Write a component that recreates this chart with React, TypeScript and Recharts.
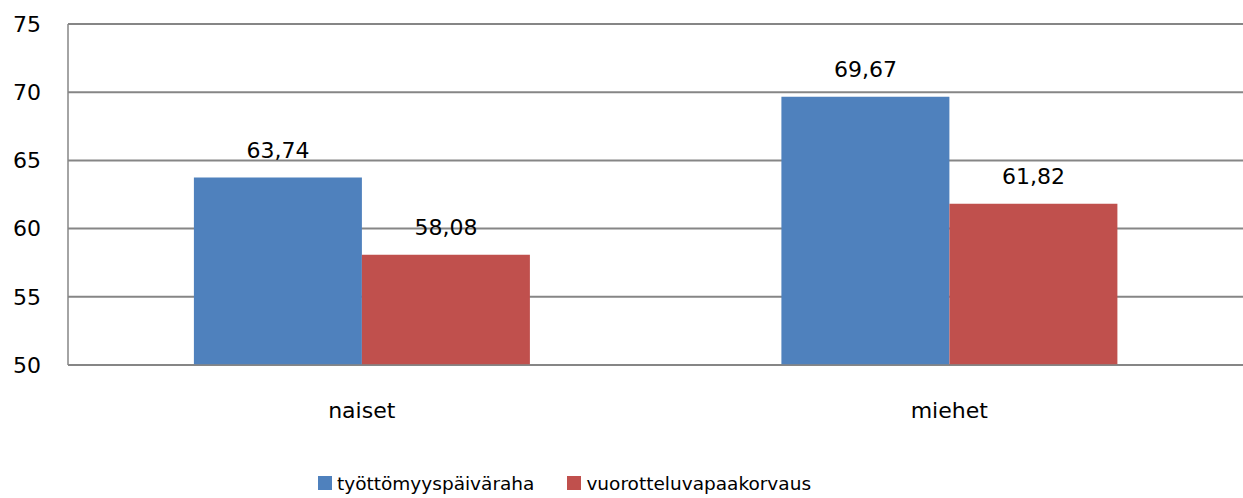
import { BarChart, Bar, XAxis, YAxis, CartesianGrid, Legend, LabelList } from "recharts";

const ryhmat = ["naiset", "miehet"];
const tyottomyyspaivaraha = [63.74, 69.67];
const vuorottelukorvaus = [58.08, 61.82];
const yTicks = [50, 55, 60, 65, 70, 75];

const sarjat = [
  { key: "tyottomyys", nimi: "työttömyyspäiväraha", vari: "#4F81BD" },
  { key: "vuorottelu", nimi: "vuorotteluvapaakorvaus", vari: "#C0504D" },
];

const data = ryhmat.map((ryhma, i) => ({
  ryhma,
  tyottomyys: tyottomyyspaivaraha[i],
  vuorottelu: vuorottelukorvaus[i],
}));

const fontti = "'DejaVu Sans', sans-serif";
const harmaa = "#868686";

const lukuMuoto = (v: number) => v.toFixed(2).replace(".", ",");

function Selite() {
  return (
    <div
      style={{
        display: "flex",
        alignItems: "center",
        height: 30,
        paddingLeft: 318,
        fontFamily: fontti,
        fontSize: 18.5,
        color: "#000",
      }}
    >
      {sarjat.map((s, i) => (
        <div
          key={s.key}
          style={{ display: "flex", alignItems: "center", marginRight: i === 0 ? 33 : 0 }}
        >
          <span
            style={{ width: 14, height: 14, background: s.vari, display: "inline-block", marginRight: 5 }}
          />
          <span>{s.nimi}</span>
        </div>
      ))}
    </div>
  );
}

export default function App() {
  return (
    <div
      style={{
        position: "absolute",
        left: 0,
        top: 0,
        width: 1243,
        height: 498,
        overflow: "hidden",
        background: "#fff",
      }}
    >
      <BarChart
        width={1243}
        height={498}
        data={data}
        margin={{ top: 24, right: 0, bottom: 0, left: 0 }}
        barCategoryGap="21.43%"
        barGap={0}
      >
        <CartesianGrid vertical={false} stroke={harmaa} strokeWidth={2} />
        <XAxis
          dataKey="ryhma"
          height={103}
          tickLine={false}
          tickSize={0}
          tickMargin={37}
          axisLine={{ stroke: harmaa, strokeWidth: 1.5 }}
          tick={{ fill: "#000", fontSize: 22, fontFamily: fontti }}
        />
        <YAxis
          width={68}
          domain={[50, 75]}
          ticks={yTicks}
          interval={0}
          allowDataOverflow
          tickLine={false}
          tickSize={0}
          tickMargin={27}
          axisLine={{ stroke: harmaa, strokeWidth: 1.5 }}
          tick={{ fill: "#000", fontSize: 22, fontFamily: fontti }}
        />
        <Legend verticalAlign="bottom" content={() => <Selite />} />
        {sarjat.map((s) => (
          <Bar key={s.key} dataKey={s.key} name={s.nimi} fill={s.vari} isAnimationActive={false}>
            <LabelList
              dataKey={s.key}
              position="top"
              offset={20}
              formatter={(v: number) => lukuMuoto(v)}
              style={{ fill: "#000", fontSize: 22, fontFamily: fontti }}
            />
          </Bar>
        ))}
      </BarChart>
    </div>
  );
}
